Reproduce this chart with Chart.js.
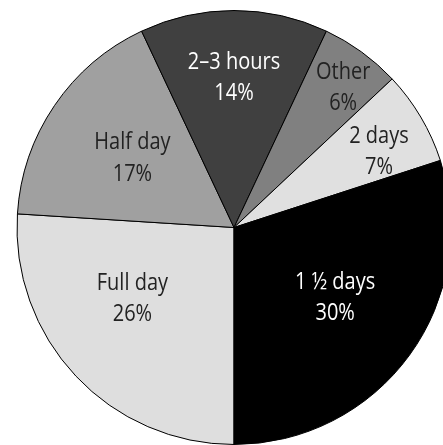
<!DOCTYPE html>
<html lang="en">
<head>
    <meta charset="UTF-8">
    <title>Pie</title>
    <style>
        body { margin: 0; overflow: hidden; background: #fff; }
        #wrap { position: relative; width: 460px; height: 445px; }
    </style>
</head>
<body>
    <div id="wrap">
        <canvas id="myChart"></canvas>
    </div>

    <script src="https://cdn.jsdelivr.net/npm/chart.js@4.4.0/dist/chart.umd.min.js"></script>
    <script>
        // data, clockwise starting at 6 o'clock
        const categories = ['Full day', 'Half day', '2–3 hours', 'Other', '2 days', '1 ½ days'];
        const percents = [26, 17, 14, 6, 7, 30];
        const sliceColors = ['#dedede', '#a0a0a0', '#404040', '#808080', '#e0e0e0', '#000000'];
        const textColors = ['#222222', '#222222', '#ffffff', '#222222', '#222222', '#ffffff'];

        // label placement: fraction of radius, angle nudge in degrees
        const labelPlace = [[0.573, 8], [0.566, 0], [0.69, 0], [0.817, 2], [0.754, 3], [0.569, -1]];

        const labelPlugin = {
            id: 'sliceLabels',
            afterDatasetsDraw(chart) {
                const ctx = chart.ctx;
                const meta = chart.getDatasetMeta(0);
                meta.data.forEach((arc, i) => {
                    const p = arc.getProps(['x', 'y', 'startAngle', 'endAngle', 'outerRadius']);
                    const a = (p.startAngle + p.endAngle) / 2 + labelPlace[i][1] * Math.PI / 180;
                    const r = p.outerRadius * labelPlace[i][0];
                    const x = p.x + Math.cos(a) * r;
                    const y = p.y + Math.sin(a) * r;
                    ctx.save();
                    // text in the original is tall and narrow, stretch a bit
                    ctx.translate(x, y);
                    ctx.scale(1, 1.15);
                    ctx.font = '20px "Open Sans", sans-serif';
                    ctx.textAlign = 'center';
                    ctx.textBaseline = 'middle';
                    ctx.fillStyle = textColors[i];
                    ctx.fillText(categories[i], 0, -13.5);
                    ctx.fillText(percents[i] + '%', 0, 13.5);
                    ctx.restore();
                });
            }
        };

        const ctx = document.getElementById('myChart').getContext('2d');
        const myChart = new Chart(ctx, {
            type: 'pie',
            data: {
                labels: categories,
                datasets: [{
                    data: percents,
                    backgroundColor: sliceColors,
                    borderColor: '#000000',
                    borderWidth: 1
                }]
            },
            options: {
                responsive: true,
                maintainAspectRatio: false,
                animation: false,
                rotation: 180,
                layout: { padding: { left: 16, top: 10, right: 8, bottom: 0 } },
                plugins: {
                    legend: { display: false },
                    tooltip: { enabled: false }
                }
            },
            plugins: [labelPlugin]
        });
    </script>
</body>
</html>
